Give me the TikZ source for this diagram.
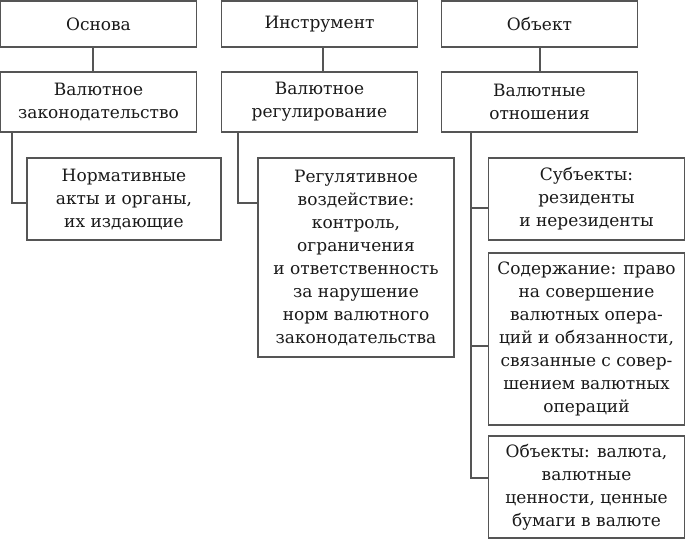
\documentclass[tikz,border=0pt]{standalone}
\usepackage{fontspec}
\setmainfont{DejaVu Serif}
\begin{document}
\begin{tikzpicture}[x=1pt,y=-1pt,
  box/.style={draw=linegray, line width=1.3pt, align=center, inner sep=0pt,
    text=black!90, font=\fontsize{17}{23}\selectfont},
  conn/.style={draw=linegray, line width=1.3pt}]
\definecolor{linegray}{HTML}{555555}
\useasboundingbox (0,0) rectangle (686,539);
% top row
\node[box, minimum width=196pt, minimum height=46pt] (A1) at (98.5,24) {Основа};
\node[box, minimum width=196pt, minimum height=46pt] (A2) at (319.5,24) {Инструмент};
\node[box, minimum width=196pt, minimum height=46pt] (A3) at (539.5,24) {Объект};
% second row
\node[box, minimum width=196pt, minimum height=60pt] (B1) at (98.5,102) {Валютное\\законодательство};
\node[box, minimum width=196pt, minimum height=60pt] (B2) at (319.5,102) {Валютное\\регулирование};
\node[box, minimum width=196pt, minimum height=60pt] (B3) at (539.5,102) {Валютные\\отношения};
% third level
\node[box, minimum width=194pt, minimum height=82pt] (C1) at (124,199) {Нормативные\\акты и органы,\\их издающие};
\node[box, minimum width=196pt, minimum height=199pt] (C2) at (356,257.5) {Регулятивное\\воздействие:\\контроль,\\ограничения\\и ответственность\\за нарушение\\норм валютного\\законодательства};
\node[box, minimum width=196pt, minimum height=82pt] (D1) at (586.5,199) {Субъекты:\\резиденты\\и нерезиденты};
\node[box, minimum width=196pt, minimum height=172pt] (D2) at (586.5,339) {Содержание: право\\на совершение\\валютных опера-\\ций и обязанности,\\связанные с совер-\\шением валютных\\операций};
\node[box, minimum width=196pt, minimum height=102pt] (D3) at (586.5,487) {Объекты: валюта,\\валютные\\ценности, ценные\\бумаги в валюте};
% connectors top -> second
\coordinate (t1) at (93,0);
\coordinate (t2) at (323,0);
\coordinate (t3) at (540,0);
\draw[conn] (A1.south -| t1) -- (B1.north -| t1);
\draw[conn] (A2.south -| t2) -- (B2.north -| t2);
\draw[conn] (A3.south -| t3) -- (B3.north -| t3);
% stems
\coordinate (s1) at (12,203);
\coordinate (s2) at (238,203);
\draw[conn] (B1.south -| s1) |- (C1.west |- s1);
\draw[conn] (B2.south -| s2) |- (C2.west |- s2);
\coordinate (r1) at (471,208);
\coordinate (r2) at (471,346);
\coordinate (r3) at (471,478);
\draw[conn] (B3.south -| r3) |- (D3.west |- r3);
\draw[conn] (r1) -- (D1.west |- r1);
\draw[conn] (r2) -- (D2.west |- r2);
\end{tikzpicture}
\end{document}
